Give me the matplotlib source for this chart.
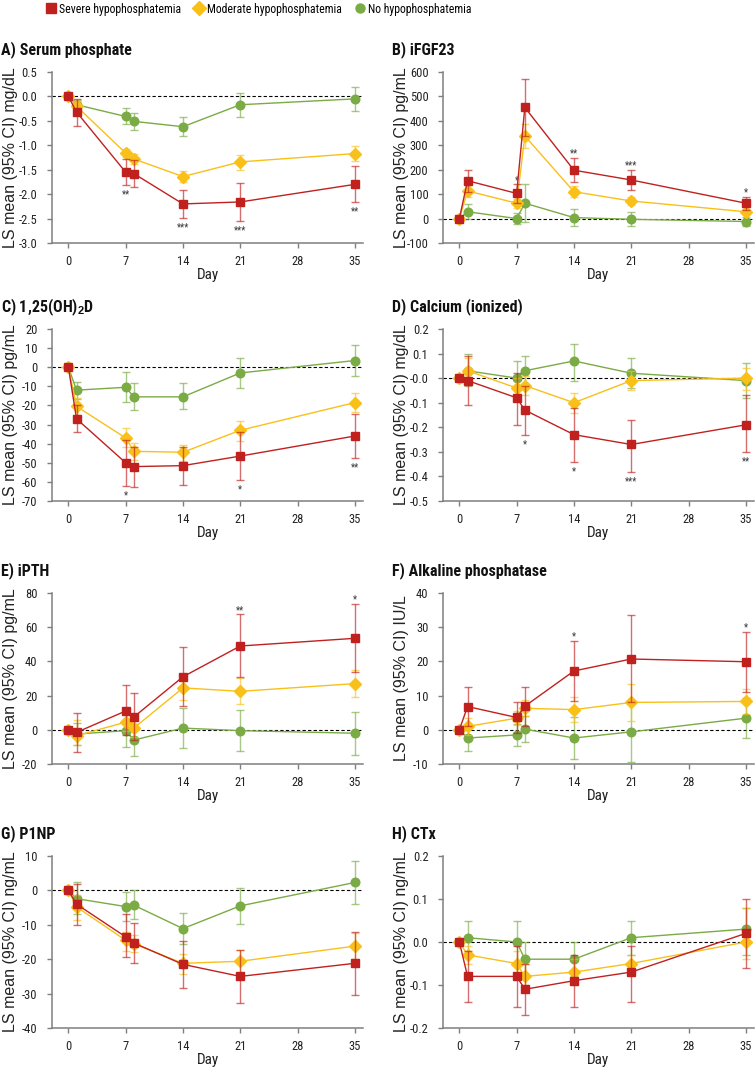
# Change from baseline of mineral metabolism markers by hypophosphatemia group

import numpy as np
import matplotlib.pyplot as plt

narrow = ['Roboto Condensed', 'Liberation Sans Narrow', 'Arial Narrow', 'Liberation Sans', 'DejaVu Sans']
plt.rcParams['font.family'] = narrow
plt.rcParams['font.stretch'] = 'condensed'
plt.rcParams['mathtext.fontset'] = 'custom'
plt.rcParams['mathtext.rm'] = 'Liberation Sans'
plt.rcParams['mathtext.bf'] = 'Liberation Sans:bold'
plt.rcParams['mathtext.default'] = 'bf'

# --- data ---
days = [0, 1, 7, 8, 14, 21, 35]
groups = ['Severe hypophosphatemia', 'Moderate hypophosphatemia', 'No hypophosphatemia']
colors = ['#C0211F', '#F9C01A', '#7AAB45']
markers = ['s', 'D', 'o']

# each list of means/limits is [severe, moderate, none]
phos_mean = [[0, -0.32, -1.55, -1.58, -2.20, -2.16, -1.80],
             [0, -0.20, -1.16, -1.28, -1.64, -1.34, -1.17],
             [0, -0.17, -0.41, -0.51, -0.62, -0.17, -0.05]]
phos_lo = [[0, -0.60, -1.81, -1.85, -2.48, -2.54, -2.16],
           [0, -0.30, -1.25, -1.38, -1.76, -1.50, -1.33],
           [0, -0.27, -0.57, -0.69, -0.82, -0.43, -0.29]]
phos_hi = [[0, -0.05, -1.29, -1.31, -1.92, -1.78, -1.43],
           [0, -0.10, -1.07, -1.18, -1.52, -1.19, -1.01],
           [0, -0.07, -0.24, -0.33, -0.43, 0.08, 0.20]]

fgf_mean = [[0, 155, 103, 455, 198, 158, 63],
            [0, 113, 63, 338, 110, 72, 28],
            [0, 28, 0, 63, 4, -3, -12]]
fgf_lo = [[0, 110, 65, 340, 148, 115, 36],
          [0, 90, 45, 290, 88, 55, 18],
          [0, 0, -22, -15, -30, -32, -30]]
fgf_hi = [[0, 200, 140, 570, 248, 200, 90],
          [0, 136, 80, 388, 132, 90, 38],
          [0, 58, 22, 142, 38, 25, 5]]

vitd_mean = [[0, -27, -50, -52, -51.5, -46.5, -36],
             [0, -20.5, -37, -44, -44.5, -33, -18.5],
             [0, -12, -10.5, -15.5, -15.5, -3, 3.5]]
vitd_lo = [[0, -34, -62, -62.5, -61.5, -59, -47.5],
           [0, -25, -42, -48.5, -49, -38.5, -23.5],
           [0, -16.5, -18, -22.5, -22, -11, -4.5]]
vitd_hi = [[0, -20, -38, -41.5, -41.5, -34, -24.5],
           [0, -16, -32, -39.5, -40.5, -28, -13.5],
           [0, -7.5, -2.5, -8, -8.5, 5, 11.5]]

ca_mean = [[0, -0.01, -0.08, -0.13, -0.23, -0.27, -0.19],
           [0, 0.03, -0.04, -0.03, -0.10, -0.01, 0.0],
           [0, 0.03, 0.0, 0.03, 0.07, 0.02, -0.01]]
ca_lo = [[0, -0.11, -0.19, -0.23, -0.34, -0.38, -0.30],
         [0, -0.02, -0.08, -0.07, -0.14, -0.05, -0.05],
         [0, -0.03, -0.07, -0.03, -0.01, -0.04, -0.08]]
ca_hi = [[0, 0.09, 0.02, -0.03, -0.12, -0.17, -0.07],
         [0, 0.08, 0.0, 0.01, -0.06, 0.03, 0.04],
         [0, 0.10, 0.07, 0.09, 0.14, 0.08, 0.06]]

pth_mean = [[0, -1.5, 11, 7.5, 31, 49, 53.5],
            [0, -3.5, 4.5, 1, 24.5, 22.5, 27],
            [0, -2.5, -0.5, -6, 1, -0.5, -2]]
pth_lo = [[0, -13, -3, -6, 14, 31, 34],
          [0, -9, -0.5, -4, 17.5, 15, 19],
          [0, -9, -10, -15.5, -10.5, -12.5, -14.5]]
pth_hi = [[0, 10, 26, 21.5, 48.5, 67.5, 73.5],
          [0, 5.5, 9.5, 6.5, 31.5, 30.5, 35],
          [0, 4, 9, 3.5, 13, 11.5, 10.5]]

alp_mean = [[0, 6.8, 3.6, 6.9, 17.2, 20.7, 19.9],
            [0, 1.0, 3.4, 6.3, 5.9, 8.0, 8.3],
            [0, -2.4, -1.5, 0.2, -2.4, -0.6, 3.4]]
alp_lo = [[0, 1.0, -1.0, 1.2, 8.5, 8.0, 11.0],
          [0, -1.5, 1.4, 3.9, 2.2, 2.5, 4.5],
          [0, -6.2, -4.6, -3.7, -8.4, -9.5, -2.5]]
alp_hi = [[0, 12.6, 8.2, 12.6, 25.9, 33.5, 28.7],
          [0, 3.5, 5.4, 8.7, 9.6, 13.5, 12.0],
          [0, 1.4, 1.6, 4.1, 3.6, 8.3, 9.3]]

p1np_mean = [[0, -4, -13.5, -15.3, -21.5, -25, -21.2],
             [0, -4.8, -14.5, -15.5, -21.2, -20.6, -16.2],
             [0, -2.4, -4.7, -4.3, -11.1, -4.5, 2.3]]
p1np_lo = [[0, -10, -19.5, -21, -28.4, -32.8, -30.5],
           [0, -8.5, -17.5, -18, -24.2, -24, -20],
           [0, -7, -9, -8.3, -15.6, -9.7, -3.9]]
p1np_hi = [[0, 2, -7, -9.5, -14.7, -17.3, -12],
           [0, -1.2, -12, -13, -18.5, -17.2, -12.4],
           [0, 2.3, -0.5, 0, -6.6, 0.7, 8.6]]

ctx_mean = [[0, -0.08, -0.08, -0.11, -0.09, -0.07, 0.02],
            [0, -0.03, -0.05, -0.08, -0.07, -0.05, 0.0],
            [0, 0.01, 0.0, -0.04, -0.04, 0.01, 0.03]]
ctx_lo = [[0, -0.14, -0.15, -0.17, -0.15, -0.14, -0.06],
          [0, -0.05, -0.08, -0.10, -0.10, -0.07, -0.04],
          [0, -0.03, -0.05, -0.08, -0.08, -0.03, -0.03]]
ctx_hi = [[0, -0.02, -0.01, -0.05, -0.03, -0.01, 0.10],
          [0, -0.01, -0.02, -0.05, -0.04, -0.03, 0.08],
          [0, 0.05, 0.05, 0.0, 0.0, 0.05, 0.08]]

titles = ['A) Serum phosphate', 'B) iFGF23', r'C) 1,25(OH)$_2$D', 'D) Calcium (ionized)',
          'E) iPTH', 'F) Alkaline phosphatase', 'G) P1NP', 'H) CTx']
units = ['mg/dL', 'pg/mL', 'pg/mL', 'mg/dL', 'pg/mL', 'IU/L', 'ng/mL', 'ng/mL']
yranges = [(-3.0, 0.5, 0.5), (-100, 600, 100), (-70, 20, 10), (-0.5, 0.2, 0.1),
           (-20, 80, 20), (-10, 40, 10), (-40, 10, 10), (-0.2, 0.2, 0.1)]

# significance marks for severe group: days, labels, above (+1) or below (-1) the CI
sig_days = [[7, 14, 21, 35], [7, 14, 21, 35], [7, 21, 35], [8, 14, 21, 35],
            [21, 35], [14, 35], [], []]
sig_text = [['**', '***', '***', '**'], ['*', '**', '***', '*'], ['*', '*', '**'],
            ['*', '*', '***', '**'], ['**', '*'], ['*', '*'], [], []]
sig_side = [-1, 1, -1, -1, 1, 1, 0, 0]

means = [phos_mean, fgf_mean, vitd_mean, ca_mean, pth_mean, alp_mean, p1np_mean, ctx_mean]
lows = [phos_lo, fgf_lo, vitd_lo, ca_lo, pth_lo, alp_lo, p1np_lo, ctx_lo]
highs = [phos_hi, fgf_hi, vitd_hi, ca_hi, pth_hi, alp_hi, p1np_hi, ctx_hi]

# --- layout in pixels ---
W, H = 755, 1067
fig = plt.figure(figsize=(W / 100, H / 100), dpi=100)
col_left = [52, 443]
ax_w = 311
row_top = [72, 329, 593, 856]
row_h = [171, 172, 171, 172]
title_x = [1, 392]

spine_col = '#7F7F7F'
d = np.array(days)

for k in range(8):
    r, c = k // 2, k % 2
    ax = fig.add_axes([col_left[c] / W, 1 - (row_top[r] + row_h[r]) / H, ax_w / W, row_h[r] / H])
    ax.axhline(0, color='black', ls=(0, (3, 2)), lw=0.8, zorder=1)

    for g in [2, 1, 0]:
        m = np.array(means[k][g], dtype=float)
        lo = np.array(lows[k][g], dtype=float)
        hi = np.array(highs[k][g], dtype=float)
        ax.errorbar(d[1:], m[1:], yerr=[m[1:] - lo[1:], hi[1:] - m[1:]], fmt='none',
                    ecolor=colors[g], alpha=0.65, elinewidth=1.0, capsize=3, capthick=1.0,
                    zorder=2 + (2 - g))
        ms = 6.5 if markers[g] == 'D' else 6.2
        ax.plot(d, m, color=colors[g], lw=1.0, marker=markers[g], ms=ms,
                mec=colors[g], mfc=colors[g], zorder=3 + (2 - g))

    for day, txt in zip(sig_days[k], sig_text[k]):
        i = days.index(day)
        if sig_side[k] > 0:
            ax.annotate(txt, (day, highs[k][0][i]), xytext=(0, 1), textcoords='offset points',
                        ha='center', va='baseline', fontsize=7, color='#333333')
        else:
            ax.annotate(txt, (day, lows[k][0][i]), xytext=(0, -9), textcoords='offset points',
                        ha='center', va='baseline', fontsize=7, color='#333333')

    lo_y, hi_y, step = yranges[k]
    ax.set_ylim(lo_y, hi_y)
    yt = np.arange(lo_y, hi_y + step / 2, step)
    ax.set_yticks(yt)
    if step < 1:
        ax.set_yticklabels(['%.1f' % v for v in yt])
    else:
        ax.set_yticklabels(['%d' % round(v) for v in yt])
    ax.set_xlim(-2, 36)
    ax.set_xticks([0, 7, 14, 21, 28, 35])

    for s in ['top', 'right']:
        ax.spines[s].set_visible(False)
    for s in ['left', 'bottom']:
        ax.spines[s].set_color(spine_col)
        ax.spines[s].set_linewidth(1.1)
    ax.tick_params(axis='both', colors=spine_col, width=1.0, length=3.5, labelsize=9,
                   labelcolor='#222222')
    ax.tick_params(axis='y', pad=7)
    ax.tick_params(axis='x', pad=5)

    ax.set_xlabel('Day', fontsize=11, color='#222222', labelpad=0)
    ax.set_ylabel('LS mean (95% CI) ' + units[k], fontsize=11.5, color='#222222',
                  family=['Liberation Sans', 'DejaVu Sans'], fontstretch='normal')
    ax.yaxis.set_label_coords(-0.11, 0.5)

    fig.text(title_x[c] / W, 1 - (row_top[r] - 22) / H, titles[k], fontsize=11.5,
             fontweight='bold', ha='left', va='center', color='#111111')

# legend across the top
handles = [plt.Line2D([], [], ls='none', marker=markers[g], color=colors[g],
                      ms=6.5 if g != 1 else 7.5) for g in range(3)]
fig.legend(handles, groups, loc='center', bbox_to_anchor=(258 / W, 1 - 9 / H), ncol=3,
           frameon=False, fontsize=8.5, handletextpad=0.2, columnspacing=1.0,
           handlelength=1.0, borderaxespad=0, borderpad=0)

fig.savefig('out.png', dpi=100)
